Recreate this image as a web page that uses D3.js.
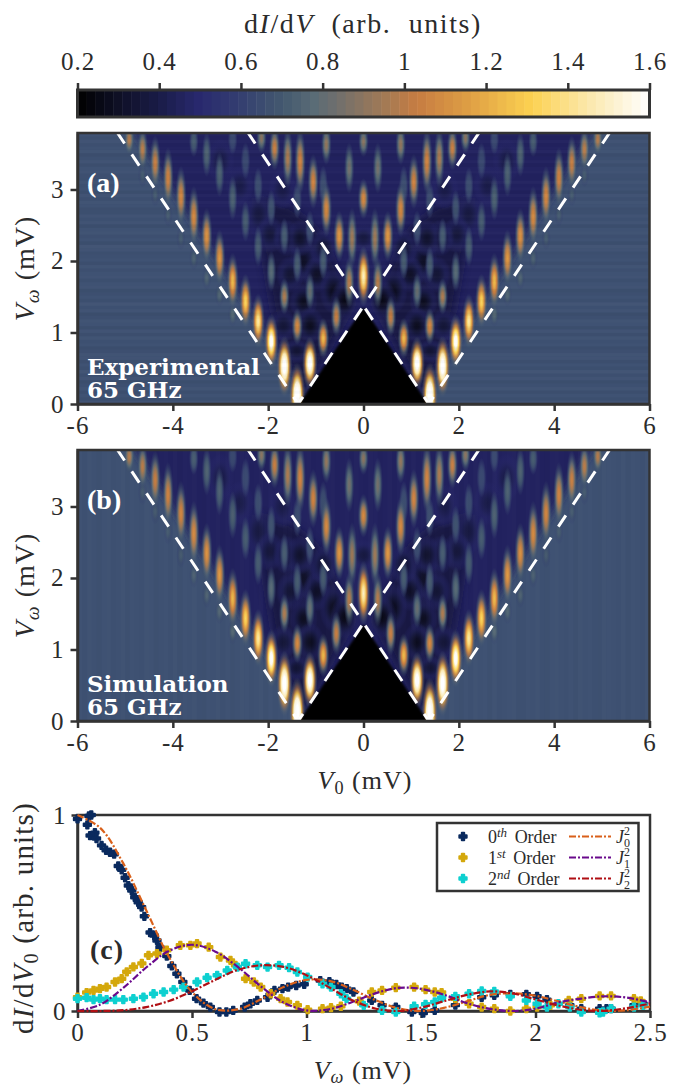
<!DOCTYPE html>
<html>
<head>
    <title>dI/dV maps</title>
    <meta charset="utf-8">
    <script src="https://d3js.org/d3.v7.min.js"></script>
    <style>
        html, body { margin: 0; background: #fff; }
        text { font-family: "Liberation Serif", serif; fill: #2b2b2b; }
        .axis text { font-size: 25px; letter-spacing: 1px; }
        .axis path, .axis line { stroke: #333; stroke-width: 2.5px; }
    </style>
</head>
<body>
<div id="chart"></div>
<script>
// colour map of the bar
var cmapValues = [0.2, 0.3, 0.4, 0.5, 0.6, 0.7, 0.78, 0.85, 0.95, 1.03, 1.15, 1.31, 1.45, 1.6];
var cmapColors = ["#000000", "#0f1026", "#1a1c48", "#29296f", "#343f70", "#43586f", "#5a6c76", "#76706a", "#a27a55", "#c67c42", "#dd9c44", "#fcd150", "#fbe8ac", "#ffffff"];
var barTicks = [0.2, 0.4, 0.6, 0.8, 1, 1.2, 1.4, 1.6];

var v0Ticks = [-6, -4, -2, 0, 2, 4, 6];
var vwTicks = [0, 1, 2, 3];
var cxTicks = [0, 0.5, 1, 1.5, 2, 2.5];
var cyTicks = [0, 1];

// peaks of the maps, left half: [V0, Vw, dI/dV, half height in mV]; right half is its mirror
// values above 1.6 are saturated peaks, they show white over most of their height
var outerPeaks = [
    [-4.915, 3.70, 1.00, 0.16], [-4.635, 3.56, 1.01, 0.22], [-4.37, 3.37, 1.05, 0.27], [-4.10, 3.16, 1.07, 0.30],
    [-3.83, 2.90, 1.09, 0.30], [-3.56, 2.62, 1.10, 0.30], [-3.29, 2.345, 1.13, 0.28], [-3.02, 2.04, 1.15, 0.28],
    [-2.745, 1.715, 1.25, 0.28], [-2.475, 1.435, 1.34, 0.27], [-2.21, 1.155, 1.46, 0.27], [-1.935, 0.875, 1.68, 0.27],
    [-1.66, 0.525, 1.90, 0.30], [-1.39, 0.12, 2.00, 0.32]
];
var innerPeaks = [
    [-1.125, 0.57, 1.85, 0.26], [-0.845, 0.92, 1.25, 0.20], [-0.57, 1.225, 1.05, 0.20], [-0.30, 1.70, 1.00, 0.25],
    [0, 1.785, 1.50, 0.30], [-0.24, 2.32, 0.95, 0.30], [-0.51, 2.345, 1.15, 0.25], [-0.78, 2.72, 1.10, 0.27],
    [-1.055, 3.11, 1.08, 0.27], [-1.33, 3.39, 1.08, 0.33], [-1.59, 3.44, 0.98, 0.30], [-1.865, 3.58, 1.05, 0.22],
    [-2.14, 3.72, 0.90, 0.15], [0, 2.87, 1.10, 0.20], [0, 3.67, 0.90, 0.15], [-0.30, 3.30, 0.85, 0.25],
    [-0.78, 3.63, 0.92, 0.20]
];
var secondPeaks = [
    [-1.39, 1.085, 1.10, 0.18], [-1.66, 1.505, 0.98, 0.18], [-1.935, 1.855, 0.78, 0.20], [-2.21, 2.205, 0.72, 0.20],
    [-2.475, 2.555, 0.72, 0.20], [-2.745, 2.88, 0.74, 0.22], [-3.02, 3.21, 0.74, 0.22], [-3.29, 3.49, 0.75, 0.22],
    [-3.56, 3.67, 0.72, 0.15], [-1.125, 1.575, 0.82, 0.18], [-0.845, 2.00, 0.72, 0.18], [-1.39, 1.95, 0.72, 0.18],
    [-1.66, 2.345, 0.72, 0.18], [-1.935, 2.74, 0.68, 0.18], [-2.21, 3.05, 0.66, 0.18], [-2.475, 3.40, 0.64, 0.18],
    [-2.745, 3.70, 0.64, 0.15], [-1.125, 2.45, 0.66, 0.18], [-1.39, 2.85, 0.66, 0.18], [-0.845, 3.05, 0.66, 0.2]
];
var tailPeaks = [
    [-4.635, 3.20, 0.72, 0.12], [-4.37, 2.93, 0.72, 0.12], [-4.10, 2.65, 0.72, 0.12], [-3.83, 2.32, 0.72, 0.12],
    [-3.56, 2.04, 0.74, 0.12], [-3.29, 1.76, 0.75, 0.12], [-3.02, 1.53, 0.76, 0.12], [-2.745, 1.25, 0.78, 0.12]
];
var darkSpots = [
    [-1.26, 2.00, 0.30, 0.22], [-1.54, 1.81, 0.34, 0.18], [-0.98, 1.81, 0.30, 0.18], [-0.63, 1.58, 0.28, 0.22],
    [-1.26, 1.43, 0.28, 0.18], [-1.68, 1.10, 0.35, 0.16], [-1.12, 1.10, 0.28, 0.18], [-1.40, 0.74, 0.34, 0.12],
    [-2.20, 2.65, 0.38, 0.22], [-1.96, 2.37, 0.36, 0.18], [-1.60, 2.32, 0.34, 0.18], [-1.33, 2.32, 0.32, 0.18],
    [-0.84, 2.18, 0.34, 0.18], [-3.00, 3.40, 0.40, 0.22], [0, 2.32, 0.38, 0.14], [-0.40, 1.45, 0.26, 0.2],
    [-2.60, 3.05, 0.40, 0.2], [-1.70, 3.00, 0.40, 0.2]
];
var darkZone = [[-1.3, 0.1], [-0.2, 1.4], [-0.9, 2.4], [-1.5, 2.75], [-2.3, 2.9], [-1.9, 1.3]];
var outerLines = [[-5.17, 3.8], [-1.37, 0]];
var crossLines = [[-2.43, 3.8], [1.37, 0]];
var gapPeak = [[-1.35, 0], [0, 1.35], [1.35, 0]];
var fanEdge = [[-4.9, 3.9], [-1.1, 0], [1.1, 0], [4.9, 3.9]];

// line noise of the two maps
var rowShadeA = [2, -3, 1, -4, 3, -1, -5, 2, -2, 4, -3, 1, -4, 2, 3, -2, -6, 1, -1, 3, -4, 2, -5, 1, 3, -2, -7, 2, -1, 4, -3, 1, -2, -5, 2, 1, -3, 2, 1, -2, 3, -4, 1, -1, -3, 2, 4, -5, 1, -2, 3, 1, -6, 2, -1, 2, -3, -4, 1, 3, -2, 2, -5, 1, -1, 3, -3, -2, 2, 1, -4, 2, -1, -6, 3, 1, -2, 2, -3, 1];
var colShadeB = [1, -1, 2, 0, -2, 1, 2, -1, 0, 2, -2, 1, 0, -1, 2, 1, -2, 0, 1, -1, 2, -2, 1, 0, 2, -1, -2, 1, 0, 2, -1, 1, -2, 0, 2, 1, -1, 0, 2, -2, 1, -1, 0, 2, 1, -2, 0, 1, 2, -1, 0, -2, 1, 2, -1, 0, 1, -2, 2, 0, -1, 2, 1, -2, 0, 2, -1, 1, 0, -2, 2, -1, 1, 2, -2, 0, 1, -1, 2, 0, -2, 1, -1, 2, 0, 1, -2, 2, -1, 0, 1, 2, -2, -1, 1, 0, 2, -1, -2, 1, 2, 0, -1, 1, -2, 2, 0, 1, -1, -2, 2, 1, 0, -1, 2, -2, 1, 0, -1, 2];

// panel c, measured points [Vw, dI/dV0]
var order0 = [[0, .98], [.05, .995], [.06, 1], [.043, .95], [.055, .895], [.076, .91], [.083, .88], [.105, .845], [.125, .82], [.142, .81], [.16, .80], [.178, .74], [.193, .72], [.208, .68], [.222, .64], [.237, .615], [.25, .58], [.265, .555], [.28, .53], [.292, .483], [.317, .40], [.335, .385], [.347, .36], [.36, .325], [.39, .28], [.412, .23], [.434, .19], [.46, .148], [.49, .105], [.52, .063], [.55, .04], [.58, .02], [.62, -.005], [.65, -.005], [.68, .003], [.73, .02], [.755, .037], [.785, .054], [.83, .07], [.86, .105], [.895, .114], [.92, .122], [.955, .13], [.99, .136], [1.06, .155], [1.1, .15], [1.13, .135], [1.154, .122], [1.176, .114], [1.205, .097], [1.285, .054], [1.33, .029], [1.39, .02], [1.46, -.005], [1.51, -.01], [1.56, .003], [1.65, .03], [1.765, .07], [1.82, .08], [1.89, .085], [1.96, .085], [2.007, .075], [2.05, .058], [2.15, .03], [2.2, .012], [2.28, .012], [2.31, .012], [2.33, .012], [2.43, .03], [2.47, .037]];
var order1 = [[0, .07], [.04, .094], [.07, .105], [.098, .114], [.127, .122], [.164, .148], [.193, .165], [.215, .2], [.244, .225], [.281, .243], [.31, .284], [.347, .293], [.39, .31], [.449, .335], [.493, .335], [.522, .344], [.573, .326], [.624, .275], [.668, .258], [.69, .233], [.734, .165], [.77, .148], [.8, .122], [.844, .088], [.887, .063], [.917, .046], [.96, .029], [1.005, .007], [1.07, .012], [1.107, .017], [1.15, .024], [1.23, .05], [1.285, .097], [1.33, .105], [1.39, .119], [1.47, .122], [1.52, .109], [1.56, .097], [1.59, .094], [1.65, .063], [1.71, .037], [1.765, .02], [1.82, .012], [1.89, 0], [1.96, .012], [2.007, .02], [2.065, .029], [2.145, .054], [2.2, .063], [2.28, .077], [2.33, .077], [2.43, .063], [2.46, .051]];
var order2 = [[0, .063], [.04, .068], [.07, .058], [.098, .063], [.127, .058], [.164, .058], [.2, .058], [.244, .063], [.288, .071], [.332, .088], [.376, .097], [.42, .109], [.463, .122], [.522, .148], [.566, .17], [.61, .182], [.654, .207], [.698, .224], [.734, .241], [.785, .233], [.83, .224], [.88, .233], [.924, .221], [.96, .199], [1.005, .173], [1.07, .139], [1.107, .122], [1.15, .088], [1.175, .063], [1.25, .029], [1.33, .003], [1.39, -.005], [1.47, .024], [1.52, .034], [1.56, .046], [1.59, .068], [1.65, .075], [1.71, .088], [1.765, .102], [1.82, .1], [1.89, .075], [1.96, .054], [2.007, .037], [2.05, .02], [2.1, .037], [2.15, .02], [2.2, -.005], [2.28, -.009], [2.295, -.005], [2.33, .012], [2.43, .02], [2.47, .029]];

// panel c, fit curves read at every 0.1 mV
var fitX = [0, .1, .2, .3, .4, .5, .6, .7, .8, .9, 1, 1.1, 1.2, 1.3, 1.4, 1.5, 1.6, 1.7, 1.8, 1.9, 2, 2.1, 2.2, 2.3, 2.4, 2.5];
var fitJ0 = [1, .933, .753, .514, .274, .097, .010, .008, .059, .122, .159, .154, .110, .056, .014, 0, .016, .049, .082, .090, .078, .049, .019, .002, .004, .022];
var fitJ1 = [0, .033, .118, .222, .307, .338, .304, .225, .126, .043, .003, .009, .046, .090, .118, .113, .083, .040, .011, 0, .012, .044, .063, .075, .068, .044];
var fitJ2 = [0, 0, .004, .020, .051, .101, .158, .210, .233, .225, .183, .120, .055, .013, 0, .017, .050, .082, .100, .090, .059, .028, .006, .001, .015, .038];

var legendNames = [["0", "th"], ["1", "st"], ["2", "nd"]];
var markerColors = ["#0a2a5e", "#d4a80c", "#0ed0d0"];
var fitColors = ["#d9601a", "#6a0a8c", "#b00f14"];

var width = 682, height = 1089;
var svg = d3.select("#chart").append("svg")
    .attr("width", width).attr("height", height)
    .style("display", "block");
var defs = svg.append("defs");

var cmap = d3.scaleLinear().domain(cmapValues).range(cmapColors).clamp(true);

// maths text: each part is [string, italic, baseline shift, size factor]
function mathText(g, x, y, size, parts, rotate, spacing) {
    var t = g.append("text").attr("x", x).attr("y", y)
        .attr("text-anchor", "middle").style("font-size", size + "px").style("letter-spacing", (spacing || 1) + "px");
    if (rotate) t.attr("transform", "rotate(-90 " + x + " " + y + ")");
    var last = 0;
    parts.forEach(function (p) {
        var sh = p[2] || 0;
        t.append("tspan").text(p[0])
            .attr("dy", sh - last)
            .style("font-style", p[1] ? "italic" : "normal")
            .style("font-size", (size * (p[3] || 1)) + "px");
        last = sh;
    });
    return t;
}

// colour bar
var barX = d3.scaleLinear().domain([0.2, 1.6]).range([77.5, 649.5]);
var barTop = 90, barBottom = 117;
var barSteps = d3.range(0.2, 1.6, 1.4 / 64);
svg.append("g").selectAll("rect").data(barSteps).enter().append("rect")
    .attr("x", function (d) { return barX(d); })
    .attr("y", barTop)
    .attr("width", barX(0.2 + 1.4 / 64) - barX(0.2) + 0.5)
    .attr("height", barBottom - barTop)
    .attr("fill", function (d) { return cmap(d + 0.7 / 64); });
svg.append("rect").attr("x", 77.5).attr("y", barTop).attr("width", 572).attr("height", barBottom - barTop)
    .attr("fill", "none").attr("stroke", "#333").attr("stroke-width", 3);
svg.append("g").attr("class", "axis")
    .attr("transform", "translate(0," + barTop + ")")
    .call(d3.axisTop(barX).tickValues(barTicks).tickSize(7).tickSizeOuter(0).tickPadding(13)
        .tickFormat(function (d) { return d; }))
    .select(".domain").remove();
mathText(svg, 363, 33, 28, [["d"], ["I", true], ["/d"], ["V", true], ["\u00a0 (arb.\u00a0 units)"]], false, 1.6);

// one map panel
var gradients = {};
function blobFill(peak) {
    var key = "g" + Math.round(peak * 100);
    if (!gradients[key]) {
        gradients[key] = true;
        var base = peak < 0.5 ? 0.5 : 0.62;
        var grad = defs.append("radialGradient").attr("id", key);
        [0, 0.2, 0.4, 0.55, 0.7, 0.85, 1].forEach(function (t) {
            var v = base + (peak - base) * Math.exp(-2.6 * t * t);
            grad.append("stop").attr("offset", t)
                .attr("stop-color", cmap(v))
                .attr("stop-opacity", t < 0.5 ? 1 : (1 - t) / 0.5);
        });
    }
    return "url(#" + key + ")";
}

function mapPanel(name, top, bottom, label, note, stretch, noiseRows, noiseCols) {
    var x = d3.scaleLinear().domain([-6, 6]).range([77.5, 649.5]);
    var y = d3.scaleLinear().domain([0, 3.79]).range([bottom, top]);
    var g = svg.append("g");

    defs.append("clipPath").attr("id", "clip" + name).append("rect")
        .attr("x", 77.5).attr("y", top).attr("width", 572).attr("height", bottom - top);
    defs.append("filter").attr("id", "soft" + name)
        .attr("filterUnits", "userSpaceOnUse").attr("x", 0).attr("y", top - 30).attr("width", width).attr("height", bottom - top + 60)
        .append("feGaussianBlur").attr("stdDeviation", 5);
    defs.append("filter").attr("id", "edge" + name)
        .attr("filterUnits", "userSpaceOnUse").attr("x", 0).attr("y", top - 30).attr("width", width).attr("height", bottom - top + 60)
        .append("feGaussianBlur").attr("stdDeviation", 1.2);

    var plot = g.append("g").attr("clip-path", "url(#clip" + name + ")");
    plot.append("rect").attr("x", 77.5).attr("y", top).attr("width", 572).attr("height", bottom - top)
        .attr("fill", "#3e5172");

    var area = d3.line().x(function (d) { return x(d[0]); }).y(function (d) { return y(d[1]); });
    plot.append("path").attr("d", area(fanEdge) + "Z")
        .attr("fill", cmap(0.46)).attr("filter", "url(#soft" + name + ")");
    [1, -1].forEach(function (s) {
        plot.append("path").attr("d", area(darkZone.map(function (p) { return [p[0] * s, p[1]]; })) + "Z")
            .attr("fill", cmap(0.36)).attr("opacity", 0.75).attr("filter", "url(#soft" + name + ")");
    });

    function blobs(list, wide) {
        var both = [];
        list.forEach(function (d) {
            both.push({ v: d[0], w: d[1], p: d[2], h: d[3] });
            if (d[0] !== 0) both.push({ v: -d[0], w: d[1], p: d[2], h: d[3] });
        });
        plot.append("g").selectAll("ellipse").data(both).enter().append("ellipse")
            .attr("cx", function (d) { return x(d.v); })
            .attr("cy", function (d) { return y(d.w); })
            .attr("rx", function (d) { return x(wide || (0.1 + Math.max(d.p - 0.7, 0) * 0.055)) - x(0); })
            .attr("ry", function (d) { return y(0) - y(d.h * stretch); })
            .attr("fill", function (d) { return blobFill(d.p); });
    }
    blobs(darkSpots, 0.3);
    blobs(tailPeaks);
    blobs(secondPeaks);
    blobs(innerPeaks);
    blobs(outerPeaks);

    // line noise
    if (noiseRows) {
        var rowY = d3.scaleBand().domain(d3.range(noiseRows.length)).range([bottom, top]);
        plot.append("g").selectAll("rect").data(noiseRows).enter().append("rect")
            .attr("x", 77.5).attr("width", 572)
            .attr("y", function (d, i) { return rowY(i); })
            .attr("height", rowY.bandwidth())
            .attr("fill", function (d) { return d < 0 ? "#000" : "#fff"; })
            .attr("opacity", function (d) { return Math.abs(d) * 0.007; });
    }
    if (noiseCols) {
        var colX = d3.scaleBand().domain(d3.range(noiseCols.length)).range([77.5, 649.5]);
        plot.append("g").selectAll("rect").data(noiseCols).enter().append("rect")
            .attr("y", top).attr("height", bottom - top)
            .attr("x", function (d, i) { return colX(i); })
            .attr("width", colX.bandwidth())
            .attr("fill", function (d) { return d < 0 ? "#000" : "#fff"; })
            .attr("opacity", function (d) { return Math.abs(d) * 0.006; });
    }

    plot.append("path").attr("d", area(gapPeak) + "Z").attr("fill", "#000")
        .attr("filter", "url(#edge" + name + ")");

    // dashed guides
    [outerLines, crossLines].forEach(function (l) {
        [1, -1].forEach(function (s) {
            plot.append("path")
                .attr("d", area(l.map(function (p) { return [p[0] * s, p[1]]; })))
                .attr("fill", "none").attr("stroke", "#fff").attr("stroke-width", 3)
                .attr("stroke-dasharray", "13.5 13");
        });
    });

    // axes
    g.append("g").attr("class", "axis").attr("transform", "translate(0," + bottom + ")")
        .call(d3.axisBottom(x).tickValues(v0Ticks).tickSize(7).tickSizeOuter(0).tickPadding(5)
            .tickFormat(function (d) { return d < 0 ? "-" + (-d) : d; }));
    g.append("g").attr("class", "axis").attr("transform", "translate(77.5,0)")
        .call(d3.axisLeft(y).tickValues(vwTicks).tickSize(7).tickSizeOuter(0).tickPadding(6)
            .tickFormat(function (d) { return d; }));
    g.append("rect").attr("x", 77.5).attr("y", top).attr("width", 572).attr("height", bottom - top)
        .attr("fill", "none").attr("stroke", "#333").attr("stroke-width", 2.5);

    // panel texts
    g.append("text").attr("x", 87).attr("y", top + 59).text(label)
        .style("font-size", "28px").style("fill", "#fff").style("font-weight", "bold");
    note.forEach(function (s, i) {
        g.append("text").attr("x", 87).attr("y", bottom - 29 + i * 23).text(s)
            .style("font-family", "'DejaVu Serif'").style("font-weight", "bold")
            .style("font-size", "23px").style("fill", "#fff");
    });
    mathText(svg, 34, (top + bottom) / 2, 28, [["V", true], ["ω", true, 5, 0.7], [" (mV)", false, 0]], true);
}

mapPanel("A", 133, 404, "(a)", ["Experimental", "65 GHz"], 1.45, rowShadeA, null);
mapPanel("B", 450, 721, "(b)", ["Simulation", "65 GHz"], 1.55, null, colShadeB);
mathText(svg, 365, 789, 26, [["V", true], ["0", false, 5, 0.7], [" (mV)", false, 0]]);

// panel c
var cx = d3.scaleLinear().domain([0, 2.5]).range([77.5, 650]);
var cy = d3.scaleLinear().domain([0, 1]).range([1011, 815]);
var cg = svg.append("g");
cg.append("g").attr("class", "axis").attr("transform", "translate(0,1011)")
    .call(d3.axisBottom(cx).tickValues(cxTicks).tickSize(7).tickSizeOuter(0).tickPadding(5)
        .tickFormat(function (d) { return d; }));
cg.append("g").attr("class", "axis").attr("transform", "translate(77.5,0)")
    .call(d3.axisLeft(cy).tickValues(cyTicks).tickSize(6).tickSizeOuter(0).tickPadding(5)
        .tickFormat(function (d) { return d; }));
cg.append("rect").attr("x", 77.5).attr("y", 815).attr("width", 572.5).attr("height", 196)
    .attr("fill", "none").attr("stroke", "#333").attr("stroke-width", 2.5);

var marker = d3.symbol().type(d3.symbolCross).size(30);
[order0, order1, order2].forEach(function (series, i) {
    cg.append("g").selectAll("path").data(series).enter().append("path")
        .attr("d", marker)
        .attr("transform", function (d) { return "translate(" + cx(d[0]) + "," + cy(d[1]) + ")"; })
        .attr("fill", markerColors[i])
        .attr("stroke", markerColors[i]).attr("stroke-width", 2).attr("stroke-linejoin", "round");
});
var fitLine = d3.line()
    .x(function (d, i) { return cx(fitX[i]); })
    .y(function (d) { return cy(d); })
    .curve(d3.curveCatmullRom);
[fitJ0, fitJ1, fitJ2].forEach(function (series, i) {
    cg.append("path").attr("d", fitLine(series))
        .attr("fill", "none").attr("stroke", fitColors[i]).attr("stroke-width", 2.2)
        .attr("stroke-dasharray", "7 2 2 2");
});

cg.append("text").attr("x", 90).attr("y", 959).text("(c)")
    .style("font-size", "28px").style("font-weight", "bold").style("letter-spacing", "1px");

// legend
var lg = cg.append("g");
lg.append("rect").attr("x", 437).attr("y", 823).attr("width", 201.5).attr("height", 68)
    .attr("fill", "#fff").attr("stroke", "#333").attr("stroke-width", 2.5);
legendNames.forEach(function (n, i) {
    var ly = 836.5 + i * 21;
    lg.append("path").attr("d", marker).attr("transform", "translate(463," + ly + ")")
        .attr("fill", markerColors[i]).attr("stroke", markerColors[i]).attr("stroke-width", 2).attr("stroke-linejoin", "round");
    var t = lg.append("text").attr("x", 488).attr("y", ly + 6).style("font-size", "18px");
    t.append("tspan").text(n[0]);
    t.append("tspan").text(n[1]).attr("dy", -6).style("font-size", "13px").style("font-style", "italic");
    t.append("tspan").text(" Order").attr("dy", 6).attr("dx", 3);
    lg.append("path").attr("d", "M569," + ly + "H611")
        .attr("stroke", fitColors[i]).attr("stroke-width", 2.2).attr("stroke-dasharray", "7 2 2 2");
    var j = lg.append("text").attr("x", 616).attr("y", ly + 6).style("font-size", "18px").style("font-style", "italic");
    j.append("tspan").text("J");
    j.append("tspan").text(i).attr("dy", 4).style("font-size", "12px").style("font-style", "normal");
    j.append("tspan").text("2").attr("dy", -12).attr("dx", -6).style("font-size", "12px").style("font-style", "normal");
});

mathText(svg, 33, 918, 29, [["d"], ["I", true], ["/d"], ["V", true], ["0", false, 5, 0.7], [" (arb. units)", false, 0]], true, 1.2);
mathText(svg, 363, 1079, 26, [["V", true], ["ω", true, 4, 0.7], [" (mV)", false, 0]]);
</script>
</body>
</html>
